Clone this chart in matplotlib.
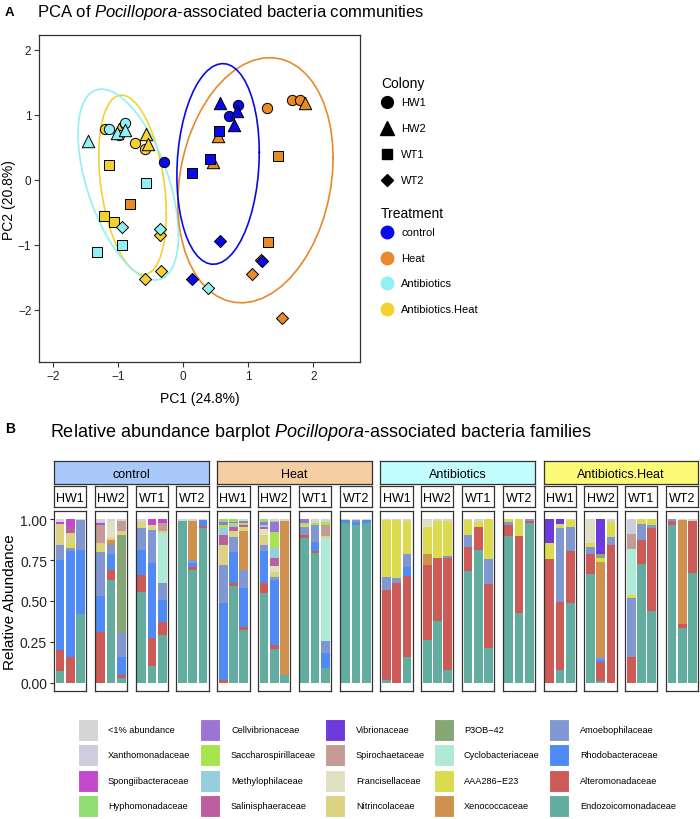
import numpy as np
import matplotlib
matplotlib.use("Agg")
from matplotlib import pyplot as plt
from matplotlib.lines import Line2D
from matplotlib.patches import Rectangle

plt.rcParams["font.family"] = ["Liberation Sans", "DejaVu Sans"]
plt.rcParams["mathtext.fontset"] = "custom"
plt.rcParams["mathtext.rm"] = "Liberation Sans"
plt.rcParams["mathtext.it"] = "Liberation Sans:italic"

# ---- PCA data ----
treatment = (["control"] * 12 + ["Heat"] * 12 + ["Antibiotics"] * 12
             + ["Antibiotics.Heat"] * 12)
colony = (["HW1"] * 3 + ["HW2"] * 3 + ["WT1"] * 3 + ["WT2"] * 3) * 4
pc1 = [-0.30, 0.84, 0.71, 0.56, 0.82, 0.78, 0.14, 0.55, 0.41, 0.57, 0.14, 1.21,
       1.29, 1.67, 1.79, 1.87, 0.53, 0.46, -0.82, 1.46, 1.31, 1.06, 1.52, 1.19,
       -1.14, -0.89, -0.99, -1.47, -1.02, -0.89, -0.57, -0.94, -1.33, -0.94, -0.36, 0.38,
       -1.21, -0.74, -0.59, -0.57, -0.54, -0.99, -1.15, -1.22, -1.06, -0.36, -0.59, -0.35]
pc2 = [0.27, 1.16, 0.98, 1.19, 1.06, 0.84, 0.11, 0.75, 0.32, -0.94, -1.53, -1.25,
       1.10, 1.23, 1.23, 1.18, 0.68, 0.28, -0.37, 0.37, -0.95, -1.45, -2.12, -1.23,
       0.78, 0.88, 0.69, 0.60, 0.73, 0.77, -0.04, -1.00, -1.11, -0.73, -0.76, -1.66,
       0.78, 0.57, 0.47, 0.70, 0.55, 0.78, 0.23, -0.55, -0.65, -0.84, -1.53, -1.40]

treatments = ["control", "Heat", "Antibiotics", "Antibiotics.Heat"]
trt_colors = ["#0a0ae6", "#e8892a", "#90f0f5", "#f5d130"]
colonies = ["HW1", "HW2", "WT1", "WT2"]
col_markers = ["o", "^", "s", "D"]
col_sizes = [55, 80, 44, 38]

# ---- relative abundance per bar (16 panels x 3 replicates) ----
endozoicomonadaceae = [.07, 0, .42, 0, .63, .03, .555, .10, .29, .99, .69, .945,
                       0, .59, .32, .55, .205, .045, .885, .795, .09, .975, .965, .975,
                       .02, 0, .16, .26, .38, .08, .685, .81, .21, .895, .425, .975,
                       0, .08, .485, .665, .01, 0, 0, .725, .44, .965, .335, .67]
alteromonadaceae = [.13, .155, 0, .31, .06, .02, .105, .175, .08, 0, .015, .015,
                    .02, .02, .02, .06, .025, 0, .02, .01, 0, 0, 0, 0,
                    .545, .61, .49, .46, .385, .685, .145, .14, .395, .07, .475, .015,
                    .755, .415, .32, .125, .12, .845, .16, .145, .505, .025, .025, .32]
rhodobacteraceae = [.55, .65, .39, .22, .10, .105, .15, .46, .135, 0, .025, .035,
                    .465, .19, .24, .195, .40, 0, 0, .055, .095, .02, .015, .02,
                    0, 0, .06, 0, 0, 0, 0, 0, 0, 0, 0, 0,
                    0, 0, 0, 0, .01, 0, 0, 0, 0, 0, 0, 0]
amoebophilaceae = [.095, .02, .185, .27, .055, .15, .135, .20, .105, 0, .02, 0,
                   .235, .09, .11, .04, .015, 0, .05, .105, .07, 0, .015, 0,
                   .08, .03, .075, 0, 0, .01, .075, 0, .15, .015, 0, .01,
                   0, .45, .145, .04, .015, .045, .36, .10, .02, .01, 0, 0]
xenococcaceae = [0, 0, 0, 0, .025, 0, 0, 0, 0, 0, .24, 0,
                 0, 0, .235, 0, 0, .945, 0, 0, 0, 0, 0, 0,
                 0, 0, 0, .065, 0, 0, 0, 0, 0, 0, 0, 0,
                 0, 0, 0, 0, .585, 0, 0, 0, 0, 0, .635, 0]
aaa286_e23 = [0, .03, 0, .01, 0, 0, 0, 0, 0, 0, 0, 0,
              0, 0, 0, 0, .01, 0, 0, 0, 0, 0, 0, 0,
              .35, .355, .205, .165, .225, .215, .09, .035, .245, .02, .10, 0,
              .10, .015, .045, .025, .025, .095, .015, .03, .035, 0, 0, 0]
cyclobacteriaceae = [0, 0, 0, 0, 0, 0, 0, 0, .305, 0, 0, 0,
                     0, 0, 0, 0, 0, 0, 0, 0, .63, 0, 0, 0,
                     0, 0, 0, 0, 0, 0, 0, 0, 0, 0, 0, 0,
                     0, 0, 0, 0, 0, 0, .28, 0, 0, 0, 0, 0]
p3ob_42 = [0, 0, 0, 0, 0, .60, 0, 0, 0, 0, 0, 0,
           0, 0, 0, 0, 0, 0, 0, 0, 0, 0, 0, 0,
           0, 0, 0, 0, 0, 0, 0, 0, 0, 0, 0, 0,
           0, 0, 0, 0, .025, 0, 0, 0, 0, 0, 0, 0]
nitrincolaceae = [.125, .06, 0, .045, .015, .02, .04, .03, .01, 0, 0, 0,
                  .125, .035, .025, .06, .02, 0, .01, 0, .01, 0, 0, 0,
                  0, 0, 0, 0, 0, 0, 0, 0, 0, 0, 0, 0,
                  0, .01, 0, 0, 0, 0, 0, 0, 0, 0, 0, 0]
francisellaceae = [0, 0, 0, 0, .105, 0, 0, 0, 0, 0, 0, 0,
                   0, 0, 0, .035, .04, 0, 0, 0, 0, 0, 0, 0,
                   0, 0, 0, .045, 0, 0, 0, 0, 0, 0, 0, 0,
                   0, 0, 0, .14, 0, 0, 0, 0, 0, 0, 0, 0]
spirochaetaceae = [0, 0, 0, .11, 0, .065, 0, 0, .05, 0, 0, 0,
                   0, 0, 0, 0, 0, 0, 0, 0, .07, 0, 0, 0,
                   0, 0, 0, 0, 0, 0, 0, 0, 0, 0, 0, 0,
                   0, 0, 0, 0, 0, 0, .095, 0, 0, 0, 0, 0]
vibrionaceae = [0, 0, 0, 0, 0, 0, 0, 0, 0, 0, 0, 0,
                0, 0, 0, 0, 0, 0, 0, 0, 0, 0, 0, 0,
                0, 0, 0, 0, 0, 0, 0, 0, 0, 0, 0, 0,
                .145, .03, 0, 0, .21, 0, 0, 0, 0, 0, 0, 0]
salinisphaeraceae = [0, .035, 0, 0, 0, 0, 0, 0, 0, 0, 0, 0,
                     .06, .025, .015, .01, .045, 0, 0, 0, 0, 0, 0, 0,
                     0, 0, 0, 0, 0, 0, 0, 0, 0, 0, 0, 0,
                     0, 0, 0, 0, 0, 0, 0, 0, 0, 0, 0, 0]
methylophilaceae = [0, 0, 0, 0, 0, 0, 0, 0, 0, 0, 0, 0,
                    .04, .015, 0, .015, .065, 0, 0, 0, 0, 0, 0, 0,
                    0, 0, 0, 0, 0, 0, 0, 0, 0, 0, 0, 0,
                    0, 0, 0, 0, 0, 0, 0, 0, 0, 0, 0, 0]
saccharospirillaceae = [0, 0, 0, 0, 0, 0, 0, 0, 0, 0, 0, 0,
                        .02, .01, .01, 0, .095, 0, .01, .01, .015, 0, 0, 0,
                        0, 0, 0, 0, 0, 0, 0, 0, 0, 0, 0, 0,
                        0, 0, 0, 0, 0, 0, 0, 0, 0, 0, 0, 0]
cellvibrionaceae = [0, 0, 0, 0, 0, 0, 0, 0, 0, 0, 0, 0,
                    .015, .01, .015, .015, .06, 0, .025, 0, 0, 0, 0, 0,
                    0, 0, 0, 0, 0, 0, 0, 0, 0, 0, 0, 0,
                    0, 0, 0, 0, 0, 0, 0, 0, 0, 0, 0, 0]
hyphomonadaceae = [0, 0, 0, 0, 0, 0, 0, 0, 0, 0, 0, 0,
                   .02, .015, 0, .02, .01, 0, 0, 0, 0, 0, 0, 0,
                   0, 0, 0, 0, 0, 0, 0, 0, 0, 0, 0, 0,
                   0, 0, 0, 0, 0, 0, 0, 0, 0, 0, 0, 0]
spongiibacteraceae = [.01, .05, 0, .01, 0, 0, 0, .035, .025, 0, 0, 0,
                      0, 0, 0, 0, 0, 0, 0, 0, 0, 0, 0, 0,
                      0, 0, 0, 0, 0, 0, 0, 0, 0, 0, 0, 0,
                      0, 0, 0, 0, 0, 0, 0, 0, 0, 0, 0, 0]
xanthomonadaceae = [.01, 0, 0, .01, 0, 0, 0, 0, 0, 0, 0, 0,
                    0, 0, 0, 0, 0, 0, 0, 0, 0, 0, 0, 0,
                    0, 0, 0, 0, 0, 0, 0, 0, 0, 0, 0, 0,
                    0, 0, 0, 0, 0, 0, .09, 0, 0, 0, 0, 0]
low_abundance = [.01, 0, .005, .015, .01, .01, .015, 0, 0, .01, .01, .005,
                 0, 0, .01, 0, .01, .01, 0, .025, .02, .005, .005, .005,
                 .005, .005, .01, .005, .01, .01, .005, .015, 0, 0, 0, 0,
                 0, 0, .005, .005, 0, .015, 0, 0, 0, 0, .005, .01]

# stacking order, bottom to top
families = [
    ("Endozoicomonadaceae", endozoicomonadaceae, "#62ad9f"),
    ("Alteromonadaceae", alteromonadaceae, "#cc5b58"),
    ("Rhodobacteraceae", rhodobacteraceae, "#4f8af5"),
    ("Amoebophilaceae", amoebophilaceae, "#8097d2"),
    ("Xenococcaceae", xenococcaceae, "#d0914e"),
    ("AAA286\u2212E23", aaa286_e23, "#dbdb4f"),
    ("Cyclobacteriaceae", cyclobacteriaceae, "#aeead7"),
    ("P3OB\u221242", p3ob_42, "#87a676"),
    ("Nitrincolaceae", nitrincolaceae, "#dbd283"),
    ("Francisellaceae", francisellaceae, "#dfe0c2"),
    ("Spirochaetaceae", spirochaetaceae, "#c59c95"),
    ("Vibrionaceae", vibrionaceae, "#6d3adb"),
    ("Salinisphaeraceae", salinisphaeraceae, "#bc5f9f"),
    ("Methylophilaceae", methylophilaceae, "#95cfdd"),
    ("Saccharospirillaceae", saccharospirillaceae, "#a8e44e"),
    ("Cellvibrionaceae", cellvibrionaceae, "#9b74d6"),
    ("Hyphomonadaceae", hyphomonadaceae, "#91dd72"),
    ("Spongiibacteraceae", spongiibacteraceae, "#c248cc"),
    ("Xanthomonadaceae", xanthomonadaceae, "#cfcddc"),
    ("<1% abundance", low_abundance, "#d4d4d4"),
]
strip_colors = ["#a9c9fb", "#f6cea3", "#c2fcfd", "#fcfa77"]


def ellipse(x, level=0.68, segments=51):
    # normal-theory confidence ellipse, like stat_ellipse(type = "norm")
    loc = x.mean(axis=0)
    cov = np.cov(x, rowvar=False)
    dfd = len(x) - 1
    q = dfd / 2 * ((1 - level) ** (-2 / dfd) - 1)
    radius = np.sqrt(2 * q)
    ang = np.linspace(0, 2 * np.pi, segments + 1)
    circle = np.column_stack([np.cos(ang), np.sin(ang)])
    pts = loc + radius * circle @ np.linalg.cholesky(cov).T
    return pts[:, 0], pts[:, 1]


W, H = 700, 820
def fx(x):
    return x / W
def fy(y):
    return 1 - y / H

fig = plt.figure(figsize=(7, 8.2), dpi=100)
dark = "#333333"

# ---- panel A ----
fig.text(fx(5), fy(15.5), "A", fontsize=9.5, weight="bold", va="baseline")
fig.text(fx(37), fy(17.5), r"PCA of $\mathit{Pocillopora}$-associated bacteria communities",
         fontsize=12, va="baseline")

ax = fig.add_axes([fx(39), fy(363), 321 / W, 327 / H])
pc1 = np.array(pc1)
pc2 = np.array(pc2)
trt_arr = np.array(treatment)
col_arr = np.array(colony)
for trt in ["Antibiotics.Heat", "Antibiotics", "Heat", "control"]:
    c = trt_colors[treatments.index(trt)]
    sel = trt_arr == trt
    ex, ey = ellipse(np.column_stack([pc1[sel], pc2[sel]]))
    ax.plot(ex, ey, color=c, lw=1.2, zorder=2)
    for col, m, s in zip(colonies, col_markers, col_sizes):
        idx = sel & (col_arr == col)
        ax.scatter(pc1[idx], pc2[idx], marker=m, s=s, c=c, edgecolors="black",
                   linewidths=0.7, zorder=3)
ax.set_xlim(-2.22, 2.72)
ax.set_ylim(-2.8, 2.23)
ax.set_xticks([-2, -1, 0, 1, 2])
ax.set_yticks([-2, -1, 0, 1, 2])
ax.set_xticklabels(["\u22122", "\u22121", "0", "1", "2"])
ax.set_yticklabels(["\u22122", "\u22121", "0", "1", "2"])
ax.tick_params(length=3.5, width=0.8, color=dark, labelsize=8.5, labelcolor="#222222", pad=2)
for sp in ax.spines.values():
    sp.set_color(dark)
    sp.set_linewidth(0.9)
fig.text(fx(199.5), fy(399), "PC1 (24.8%)", fontsize=10, ha="center", va="center")
fig.text(fx(9), fy(200), "PC2 (20.8%)", fontsize=10, ha="center", va="center", rotation=90)

# PCA legends
fig.text(fx(381), fy(84), "Colony", fontsize=10, va="center")
leg_sizes = [8.5, 9.5, 7.2, 6.5]
for k, (col, m) in enumerate(zip(colonies, col_markers)):
    y = 103 + 26 * k
    fig.add_artist(Line2D([fx(387)], [fy(y)], marker=m, markersize=leg_sizes[k], color="black",
                          linestyle="none", transform=fig.transFigure))
    fig.text(fx(401), fy(y), col, fontsize=8, va="center")
fig.text(fx(381), fy(214), "Treatment", fontsize=10, va="center")
for k, (trt, c) in enumerate(zip(treatments, trt_colors)):
    y = 233 + 25.7 * k
    fig.add_artist(Line2D([fx(387)], [fy(y)], marker="o", markersize=9, color=c,
                          markeredgecolor=c, linestyle="none", transform=fig.transFigure))
    fig.text(fx(401), fy(y), trt, fontsize=8, va="center")

# ---- panel B ----
fig.text(fx(5), fy(433), "B", fontsize=10, weight="bold", va="baseline")
fig.text(fx(50), fy(437.5),
         r"Relative abundance barplot $\mathit{Pocillopora}$-associated bacteria families",
         fontsize=13, va="baseline")

pitch = 40.8
pw = 32.3
for p in range(16):
    left = 54 + p * pitch
    bax = fig.add_axes([fx(left), fy(692), pw / W, 180 / H])
    bottom = np.zeros(3)
    for name, vals, color in families:
        v = np.array(vals[3 * p:3 * p + 3])
        bax.bar([1, 2, 3], v, width=0.85, bottom=bottom, color=color, edgecolor="none")
        bottom += v
    bax.set_xlim(0.42, 3.55)
    bax.set_ylim(-0.05, 1.05)
    bax.set_xticks([])
    if p == 0:
        bax.set_yticks([0, 0.25, 0.5, 0.75, 1.0])
        bax.set_yticklabels(["0.00", "0.25", "0.50", "0.75", "1.00"])
        bax.tick_params(axis="y", length=3, width=0.8, color=dark, labelsize=10,
                        labelcolor="#222222", pad=2)
    else:
        bax.set_yticks([])
    for sp in bax.spines.values():
        sp.set_color(dark)
        sp.set_linewidth(0.9)

    sax = fig.add_axes([fx(left), fy(508), pw / W, 21 / H])
    sax.set_xticks([])
    sax.set_yticks([])
    for sp in sax.spines.values():
        sp.set_color(dark)
        sp.set_linewidth(0.9)
    sax.text(0.5, 0.45, colonies[p % 4], fontsize=9, ha="center", va="center",
             transform=sax.transAxes)

for g, trt in enumerate(treatments):
    left = 54 + 4 * g * pitch
    gax = fig.add_axes([fx(left), fy(485), (3 * pitch + pw) / W, 23 / H])
    gax.set_facecolor(strip_colors[g])
    gax.set_xticks([])
    gax.set_yticks([])
    for sp in gax.spines.values():
        sp.set_color(dark)
        sp.set_linewidth(0.9)
    gax.text(0.5, 0.45, trt, fontsize=9, ha="center", va="center", transform=gax.transAxes)

fig.text(fx(10), fy(602), "Relative Abundance", fontsize=11, ha="center", va="center",
         rotation=90)

# bottom legend, column-major, reverse of stack order
sw_x = [78, 200, 325, 434, 549]
tx_x = [108, 231, 356, 464, 580]
rows_y = [731, 756, 782, 807]
for k, (name, vals, color) in enumerate(families[::-1]):
    c, r = divmod(k, 4)
    y = rows_y[r]
    fig.add_artist(Rectangle((fx(sw_x[c]), fy(y + 11)), 20 / W, 22 / H, facecolor=color,
                             edgecolor="white", linewidth=0.8, transform=fig.transFigure))
    fig.text(fx(tx_x[c]), fy(y), name, fontsize=6.6, va="center")

fig.savefig("out.png", dpi=100)
